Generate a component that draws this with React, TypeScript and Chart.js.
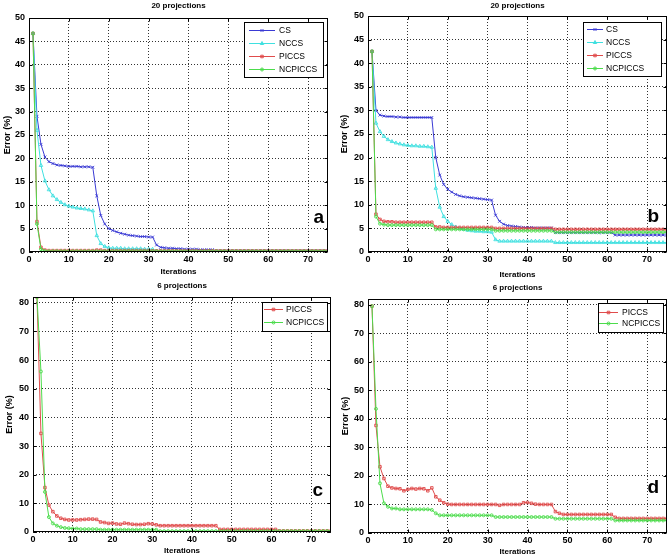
import React, { useEffect, useRef } from 'react';
import { Chart, registerables } from 'chart.js';
import { drawPoint } from 'chart.js/helpers';

Chart.register(...registerables);

const FONT = "'Liberation Sans', Arial, Helvetica, sans-serif";

// ---------- data ----------
const ITER = [
  1, 2, 3, 4, 5, 6, 7, 8, 9, 10, 11, 12, 13, 14, 15, 16, 17, 18, 19, 20,
  21, 22, 23, 24, 25, 26, 27, 28, 29, 30, 31, 32, 33, 34, 35, 36, 37, 38, 39, 40,
  41, 42, 43, 44, 45, 46, 47, 48, 49, 50, 51, 52, 53, 54, 55, 56, 57, 58, 59, 60,
  61, 62, 63, 64, 65, 66, 67, 68, 69, 70, 71, 72, 73, 74, 75,
];
const X_TICKS = [0, 10, 20, 30, 40, 50, 60, 70];
const Y_TICKS_20 = [0, 5, 10, 15, 20, 25, 30, 35, 40, 45, 50];
const Y_TICKS_6 = [0, 10, 20, 30, 40, 50, 60, 70, 80];
const X_TITLE = 'Iterations';
const Y_TITLE = 'Error (%)';
const TITLE_20 = '20 projections';
const TITLE_6 = '6 projections';

// panel a (20 projections)
const A_CS = [
  46.7, 29.0, 23.0, 20.3, 19.3, 18.9, 18.6, 18.5, 18.4, 18.3,
  18.3, 18.3, 18.2, 18.2, 18.2, 18.1, 12.0, 7.8, 6.0, 5.0,
  4.6, 4.3, 4.0, 3.8, 3.6, 3.5, 3.4, 3.3, 3.3, 3.2,
  3.2, 1.5, 1.0, 0.9, 0.8, 0.8, 0.7, 0.7, 0.6, 0.6,
  0.6, 0.6, 0.5, 0.5, 0.5, 0.5, 0.2, 0.2, 0.2, 0.2,
  0.2, 0.2, 0.2, 0.2, 0.2, 0.2, 0.2, 0.2, 0.2, 0.2,
  0.2, 0.2, 0.2, 0.2, 0.2, 0.2, 0.2, 0.2, 0.2, 0.2,
  0.2, 0.2, 0.2, 0.2, 0.2,
];
const A_NCCS = [
  46.7, 26.0, 18.5, 15.2, 13.3, 12.0, 11.2, 10.6, 10.1, 9.8,
  9.6, 9.4, 9.3, 9.2, 9.0, 8.8, 3.5, 1.8, 1.2, 0.9,
  0.8, 0.8, 0.8, 0.7, 0.7, 0.7, 0.7, 0.7, 0.6, 0.6,
  0.6, 0.15, 0.15, 0.15, 0.15, 0.15, 0.15, 0.15, 0.15, 0.15,
  0.15, 0.15, 0.15, 0.15, 0.15, 0.15, 0.15, 0.15, 0.15, 0.15,
  0.15, 0.15, 0.15, 0.15, 0.15, 0.15, 0.15, 0.15, 0.15, 0.15,
  0.15, 0.15, 0.15, 0.15, 0.15, 0.15, 0.15, 0.15, 0.15, 0.15,
  0.15, 0.15, 0.15, 0.15, 0.15,
];
const A_PICCS = [
  46.7, 6.5, 1.0, 0.4, 0.3, 0.3, 0.3, 0.3, 0.3, 0.3,
  0.3, 0.3, 0.3, 0.3, 0.3, 0.3, 0.4, 0.4, 0.3, 0.3,
  0.3, 0.3, 0.3, 0.3, 0.3, 0.3, 0.3, 0.3, 0.3, 0.3,
  0.25, 0.25, 0.25, 0.25, 0.25, 0.25, 0.25, 0.25, 0.25, 0.25,
  0.25, 0.25, 0.25, 0.25, 0.25, 0.25, 0.25, 0.25, 0.25, 0.25,
  0.25, 0.25, 0.25, 0.25, 0.25, 0.25, 0.25, 0.25, 0.25, 0.25,
  0.25, 0.25, 0.25, 0.25, 0.25, 0.25, 0.25, 0.25, 0.25, 0.25,
  0.25, 0.25, 0.25, 0.25, 0.25,
];
const A_NCPICCS = [
  46.7, 6.0, 0.6, 0.2, 0.15, 0.15, 0.15, 0.15, 0.15, 0.15,
  0.15, 0.15, 0.15, 0.15, 0.15, 0.15, 0.15, 0.15, 0.15, 0.15,
  0.15, 0.15, 0.15, 0.15, 0.15, 0.15, 0.15, 0.15, 0.15, 0.15,
  0.15, 0.15, 0.15, 0.15, 0.15, 0.15, 0.15, 0.15, 0.15, 0.15,
  0.15, 0.15, 0.15, 0.15, 0.15, 0.15, 0.15, 0.15, 0.15, 0.15,
  0.15, 0.15, 0.15, 0.15, 0.15, 0.15, 0.15, 0.15, 0.15, 0.15,
  0.15, 0.15, 0.15, 0.15, 0.15, 0.15, 0.15, 0.15, 0.15, 0.15,
  0.15, 0.15, 0.15, 0.15, 0.15,
];

// panel b (20 projections)
const B_CS = [
  42.5, 30.0, 29.0, 28.8, 28.7, 28.7, 28.6, 28.6, 28.5, 28.5,
  28.5, 28.5, 28.5, 28.5, 28.5, 28.5, 20.0, 16.3, 14.3, 13.3,
  12.7, 12.2, 11.9, 11.7, 11.6, 11.5, 11.4, 11.3, 11.2, 11.1,
  11.0, 7.8, 6.5, 5.9, 5.6, 5.5, 5.4, 5.3, 5.2, 5.2,
  5.2, 5.1, 5.1, 5.1, 5.1, 5.1, 4.1, 4.1, 4.1, 4.1,
  4.1, 4.1, 4.1, 4.1, 4.1, 4.1, 4.1, 4.1, 4.1, 4.1,
  4.1, 3.6, 3.6, 3.6, 3.6, 3.6, 3.6, 3.6, 3.6, 3.6,
  3.6, 3.6, 3.6, 3.6, 3.6,
];
const B_NCCS = [
  42.5, 27.3, 25.5, 24.5, 23.8, 23.4, 23.1, 22.9, 22.7, 22.6,
  22.5, 22.5, 22.4, 22.4, 22.3, 22.2, 13.5, 9.5, 7.5, 6.5,
  5.8, 5.3, 5.0, 4.8, 4.6, 4.5, 4.4, 4.4, 4.3, 4.3,
  4.2, 2.6, 2.3, 2.3, 2.3, 2.3, 2.3, 2.3, 2.3, 2.3,
  2.3, 2.3, 2.3, 2.3, 2.3, 2.3, 2.0, 2.0, 2.0, 2.0,
  2.0, 2.0, 2.0, 2.0, 2.0, 2.0, 2.0, 2.0, 2.0, 2.0,
  2.0, 2.0, 2.0, 2.0, 2.0, 2.0, 2.0, 2.0, 2.0, 2.0,
  2.0, 2.0, 2.0, 2.0, 2.0,
];
const B_PICCS = [
  42.5, 8.0, 6.9, 6.5, 6.4, 6.4, 6.3, 6.3, 6.3, 6.3,
  6.3, 6.3, 6.3, 6.3, 6.3, 6.3, 5.3, 5.3, 5.2, 5.2,
  5.2, 5.2, 5.2, 5.2, 5.2, 5.2, 5.2, 5.2, 5.2, 5.2,
  5.2, 5.0, 5.0, 5.0, 5.0, 5.0, 5.0, 5.0, 5.0, 5.0,
  5.0, 5.0, 5.0, 5.0, 5.0, 5.0, 4.8, 4.8, 4.8, 4.8,
  4.8, 4.8, 4.8, 4.8, 4.8, 4.8, 4.8, 4.8, 4.8, 4.8,
  4.8, 4.8, 4.8, 4.8, 4.8, 4.8, 4.8, 4.8, 4.8, 4.8,
  4.8, 4.8, 4.8, 4.8, 4.8,
];
const B_NCPICCS = [
  42.5, 7.5, 6.0, 5.8, 5.7, 5.7, 5.7, 5.7, 5.7, 5.7,
  5.7, 5.7, 5.7, 5.7, 5.7, 5.7, 4.8, 4.8, 4.8, 4.8,
  4.8, 4.8, 4.8, 4.8, 4.8, 4.8, 4.8, 4.8, 4.8, 4.8,
  4.8, 4.5, 4.5, 4.5, 4.5, 4.5, 4.5, 4.5, 4.5, 4.5,
  4.5, 4.5, 4.5, 4.5, 4.5, 4.5, 4.2, 4.2, 4.2, 4.2,
  4.2, 4.2, 4.2, 4.2, 4.2, 4.2, 4.2, 4.2, 4.2, 4.2,
  4.2, 4.2, 4.2, 4.2, 4.2, 4.2, 4.2, 4.2, 4.2, 4.2,
  4.2, 4.2, 4.2, 4.2, 4.2,
];

// panel c (6 projections)
const C_PICCS = [
  82.0, 34.4, 15.5, 9.4, 7.1, 5.6, 4.8, 4.4, 4.2, 4.2,
  4.2, 4.3, 4.4, 4.5, 4.5, 4.4, 3.5, 3.3, 3.0, 3.1,
  2.8, 2.7, 3.1, 2.9, 2.7, 2.6, 2.6, 2.7, 2.9, 2.8,
  2.5, 2.2, 2.2, 2.2, 2.2, 2.2, 2.2, 2.2, 2.2, 2.2,
  2.2, 2.2, 2.2, 2.2, 2.2, 2.2, 0.9, 0.9, 0.9, 0.9,
  0.9, 0.9, 0.9, 0.9, 0.9, 0.9, 0.9, 0.9, 0.9, 0.9,
  0.9, 0.4, 0.4, 0.4, 0.4, 0.4, 0.4, 0.4, 0.4, 0.4,
  0.4, 0.4, 0.4, 0.4, 0.4,
];
const C_NCPICCS = [
  82.0, 56.0, 14.0, 5.2, 3.0, 2.2, 1.7, 1.4, 1.3, 1.2,
  1.2, 1.0, 1.0, 1.0, 1.0, 1.0, 0.8, 0.8, 0.8, 0.8,
  0.8, 0.8, 0.8, 0.8, 0.8, 0.8, 0.8, 0.8, 0.8, 0.8,
  0.8, 0.3, 0.3, 0.3, 0.3, 0.3, 0.3, 0.3, 0.3, 0.3,
  0.3, 0.3, 0.3, 0.3, 0.3, 0.3, 0.3, 0.3, 0.3, 0.3,
  0.3, 0.3, 0.3, 0.3, 0.3, 0.3, 0.3, 0.3, 0.3, 0.3,
  0.3, 0.3, 0.3, 0.3, 0.3, 0.3, 0.3, 0.3, 0.3, 0.3,
  0.3, 0.3, 0.3, 0.3, 0.3,
];

// panel d (6 projections)
const D_PICCS = [
  79.5, 37.7, 23.2, 19.1, 16.4, 15.8, 15.6, 15.5, 14.8, 15.3,
  15.6, 15.4, 15.6, 15.5, 14.8, 15.8, 12.7, 11.5, 10.6, 10.1,
  10.0, 10.0, 10.0, 10.0, 10.0, 10.0, 10.0, 10.0, 10.0, 10.0,
  10.0, 10.0, 9.7, 10.0, 10.0, 10.0, 10.0, 10.0, 10.6, 10.7,
  10.4, 10.1, 10.0, 10.0, 10.0, 10.0, 7.5, 6.9, 6.5, 6.5,
  6.5, 6.5, 6.5, 6.5, 6.5, 6.5, 6.5, 6.5, 6.5, 6.5,
  6.5, 5.5, 5.1, 5.1, 5.1, 5.1, 5.1, 5.1, 5.1, 5.1,
  5.1, 5.1, 5.1, 5.1, 5.1,
];
const D_NCPICCS = [
  79.5, 43.5, 17.4, 10.4, 9.2, 8.6, 8.6, 8.3, 8.3, 8.3,
  8.3, 8.3, 8.3, 8.3, 8.3, 8.1, 6.9, 6.2, 6.2, 6.2,
  6.2, 6.2, 6.2, 6.2, 6.2, 6.2, 6.2, 6.2, 6.2, 6.2,
  6.2, 5.6, 5.6, 5.6, 5.6, 5.6, 5.6, 5.6, 5.6, 5.6,
  5.6, 5.6, 5.6, 5.6, 5.6, 5.6, 5.0, 5.0, 5.0, 5.0,
  5.0, 5.0, 5.0, 5.0, 5.0, 5.0, 5.0, 5.0, 5.0, 5.0,
  5.0, 4.4, 4.4, 4.4, 4.4, 4.4, 4.4, 4.4, 4.4, 4.4,
  4.4, 4.4, 4.4, 4.4, 4.4,
];

// ---------- styles ----------
const STYLE: Record<string, { color: string; pointStyle: string; radius: number }> = {
  CS: { color: '#3a3ad4', pointStyle: 'crossRot', radius: 2 },
  NCCS: { color: '#3fe0e0', pointStyle: 'triangle', radius: 2 },
  PICCS: { color: '#e04c4c', pointStyle: 'rect', radius: 1.8 },
  NCPICCS: { color: '#4cdc4c', pointStyle: 'circle', radius: 1.5 },
};

const PANELS = [
  {
    key: 'a', left: 0, top: 0, w: 336, h: 280,
    area: { l: 29, t: 18, r: 328, b: 252 }, yMax: 50, yTicks: Y_TICKS_20,
    series: [['CS', A_CS], ['NCCS', A_NCCS], ['PICCS', A_PICCS], ['NCPICCS', A_NCPICCS]],
    title: TITLE_20, titleY: 6, xTitleY: 272, yTitleX: 8,
    letter: 'a', letterX: 324, letterY: 223,
    legend: { x: 244, y: 22, w: 79, h: 55, y0: 30, dy: 13, l0: 249, l1: 275, tx: 279 },
  },
  {
    key: 'b', left: 336, top: 0, w: 336, h: 280,
    area: { l: 32, t: 16, r: 331, b: 252 }, yMax: 50, yTicks: Y_TICKS_20,
    series: [['CS', B_CS], ['NCCS', B_NCCS], ['PICCS', B_PICCS], ['NCPICCS', B_NCPICCS]],
    title: TITLE_20, titleY: 6, xTitleY: 275, yTitleX: 9,
    letter: 'b', letterX: 323, letterY: 222,
    legend: { x: 247, y: 22, w: 78, h: 54, y0: 29, dy: 13, l0: 251, l1: 267, tx: 270 },
  },
  {
    key: 'c', left: 0, top: 280, w: 336, h: 277,
    area: { l: 33, t: 17, r: 332, b: 252 }, yMax: 82, yTicks: Y_TICKS_6,
    series: [['PICCS', C_PICCS], ['NCPICCS', C_NCPICCS]],
    title: TITLE_6, titleY: 6, xTitleY: 271, yTitleX: 10,
    letter: 'c', letterX: 323, letterY: 216,
    legend: { x: 262, y: 22, w: 65, h: 29, y0: 29, dy: 13, l0: 264, l1: 283, tx: 286 },
  },
  {
    key: 'd', left: 336, top: 280, w: 336, h: 277,
    area: { l: 32, t: 19, r: 332, b: 253 }, yMax: 82, yTicks: Y_TICKS_6,
    series: [['PICCS', D_PICCS], ['NCPICCS', D_NCPICCS]],
    title: TITLE_6, titleY: 8, xTitleY: 272, yTitleX: 10,
    letter: 'd', letterX: 323, letterY: 213,
    legend: { x: 262, y: 23, w: 65, h: 29, y0: 32, dy: 11, l0: 263, l1: 282, tx: 286 },
  },
];

const decoPlugin = {
  id: 'deco',
  afterDraw(chart: any) {
    const o = chart.options.plugins.deco;
    if (!o || !o.letter) return;
    const { ctx, chartArea: ca } = chart;
    const xs = chart.scales.x;
    const ys = chart.scales.y;
    const l = Math.round(ca.left) + 0.5;
    const t = Math.round(ca.top) + 0.5;
    const r = Math.round(ca.right) - 0.5;
    const b = Math.round(ca.bottom) - 0.5;
    ctx.save();
    ctx.setLineDash([]);
    ctx.strokeStyle = '#000';
    ctx.lineWidth = 1;
    ctx.beginPath();
    xs.ticks.forEach((tk: any) => {
      const px = Math.round(xs.getPixelForValue(tk.value)) + 0.5;
      ctx.moveTo(px, b); ctx.lineTo(px, b - 3);
      ctx.moveTo(px, t); ctx.lineTo(px, t + 3);
    });
    ys.ticks.forEach((tk: any) => {
      const py = Math.round(ys.getPixelForValue(tk.value)) + 0.5;
      ctx.moveTo(l, py); ctx.lineTo(l + 3, py);
      ctx.moveTo(r, py); ctx.lineTo(r - 3, py);
    });
    ctx.stroke();
    ctx.strokeRect(l, t, r - l, b - t);

    // legend
    const lg = o.legend;
    ctx.fillStyle = '#fff';
    ctx.fillRect(lg.x, lg.y, lg.w, lg.h);
    ctx.strokeStyle = '#000';
    ctx.strokeRect(lg.x + 0.5, lg.y + 0.5, lg.w, lg.h);
    chart.data.datasets.forEach((ds: any, i: number) => {
      const y = lg.y0 + i * lg.dy + 0.5;
      ctx.strokeStyle = ds.borderColor;
      ctx.lineWidth = 1;
      ctx.beginPath();
      ctx.moveTo(lg.l0, y);
      ctx.lineTo(lg.l1, y);
      ctx.stroke();
      ctx.fillStyle = 'rgba(0,0,0,0)';
      drawPoint(ctx, { pointStyle: ds.pointStyle, radius: ds.pointRadius, rotation: 0, borderWidth: 1 } as any, (lg.l0 + lg.l1) / 2, y);
      ctx.fillStyle = '#000';
      ctx.font = `8.5px ${FONT}`;
      ctx.textAlign = 'left';
      ctx.textBaseline = 'middle';
      ctx.fillText(ds.label, lg.tx, y);
    });

    // titles
    const cx = (ca.left + ca.right) / 2;
    const cy = (ca.top + ca.bottom) / 2;
    ctx.fillStyle = '#000';
    ctx.textAlign = 'center';
    ctx.textBaseline = 'middle';
    ctx.font = `bold 8px ${FONT}`;
    ctx.fillText(o.title, cx, o.titleY);
    ctx.fillText(o.xTitle, cx, o.xTitleY);
    ctx.save();
    ctx.translate(o.yTitleX, cy);
    ctx.rotate(-Math.PI / 2);
    ctx.font = `bold 9px ${FONT}`;
    ctx.fillText(o.yTitle, 0, 0);
    ctx.restore();

    // panel letter
    ctx.font = `bold 19px ${FONT}`;
    ctx.textAlign = 'right';
    ctx.textBaseline = 'alphabetic';
    ctx.fillText(o.letter, o.letterX, o.letterY);
    ctx.restore();
  },
};

function Panel({ p }: { p: any }) {
  const ref = useRef<HTMLCanvasElement | null>(null);
  useEffect(() => {
    if (!ref.current) return;
    const n = p.series.length;
    const datasets = p.series.map(([name, vals]: [string, number[]], i: number) => {
      const st = STYLE[name];
      return {
        label: name,
        data: ITER.map((x, k) => ({ x, y: vals[k] })),
        borderColor: st.color,
        backgroundColor: 'rgba(0,0,0,0)',
        pointBorderColor: st.color,
        pointBackgroundColor: 'rgba(0,0,0,0)',
        pointStyle: st.pointStyle,
        pointRadius: st.radius,
        pointBorderWidth: 0.9,
        borderWidth: 1,
        tension: 0,
        order: n - 1 - i,
      };
    });
    const chart = new Chart(ref.current, {
      type: 'line',
      data: { datasets },
      plugins: [decoPlugin],
      options: {
        responsive: false,
        animation: false,
        events: [],
        layout: { padding: { left: 0, top: p.area.t, right: p.w - p.area.r, bottom: 0 } },
        plugins: {
          legend: { display: false },
          tooltip: { enabled: false },
          title: { display: false },
          deco: {
            title: p.title, titleY: p.titleY, xTitle: X_TITLE, yTitle: Y_TITLE,
            xTitleY: p.xTitleY, yTitleX: p.yTitleX,
            letter: p.letter, letterX: p.letterX, letterY: p.letterY,
            legend: p.legend,
          },
        } as any,
        scales: {
          x: {
            type: 'linear',
            min: 0,
            max: 75,
            afterBuildTicks: (s: any) => { s.ticks = X_TICKS.map((v) => ({ value: v })); },
            afterFit: (s: any) => { s.height = p.h - p.area.b; },
            ticks: { font: { family: FONT, size: 9, weight: 'bold' }, color: '#000', padding: 2, maxRotation: 0, autoSkip: false },
            grid: { color: '#333', lineWidth: 1, drawTicks: false },
            border: { display: false, dash: [1, 2] },
          },
          y: {
            type: 'linear',
            min: 0,
            max: p.yMax,
            afterBuildTicks: (s: any) => { s.ticks = p.yTicks.map((v: number) => ({ value: v })); },
            afterFit: (s: any) => { s.width = p.area.l; },
            ticks: { font: { family: FONT, size: 9, weight: 'bold' }, color: '#000', padding: 4, autoSkip: false },
            grid: { color: '#333', lineWidth: 1, drawTicks: false },
            border: { display: false, dash: [1, 2] },
          },
        },
      } as any,
    });
    return () => chart.destroy();
  }, [p]);
  return (
    <canvas
      ref={ref}
      width={p.w}
      height={p.h}
      style={{ position: 'absolute', left: p.left, top: p.top, width: p.w, height: p.h }}
    />
  );
}

export default function App() {
  return (
    <div style={{ position: 'absolute', left: 0, top: 0, width: 672, height: 557, background: '#fff' }}>
      {PANELS.map((p) => (
        <Panel key={p.key} p={p} />
      ))}
    </div>
  );
}
